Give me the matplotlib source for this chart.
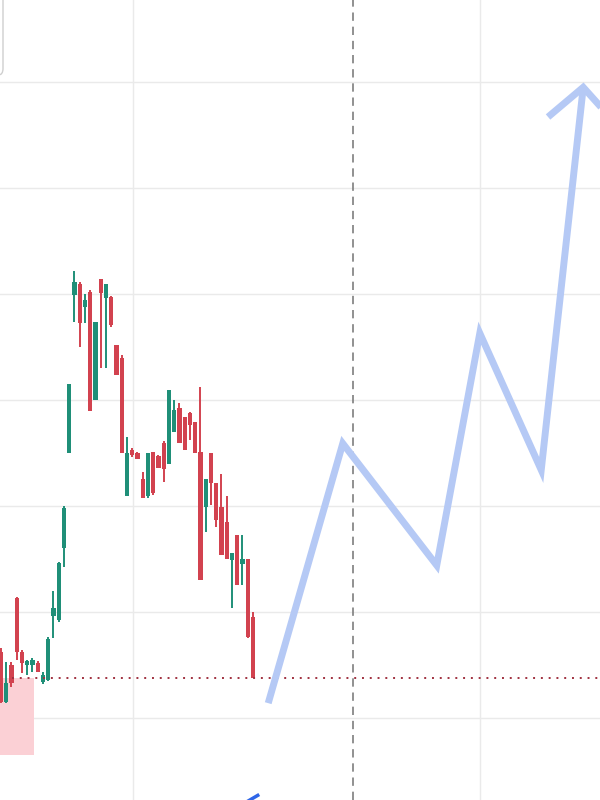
import matplotlib
matplotlib.use("Agg")
import matplotlib.pyplot as plt
from matplotlib.patches import Rectangle, FancyBboxPatch

# candle data, one entry per bar (prices)
opens = [106.2, 101.5, 105.0, 111.3, 106.2, 105.0, 105.0, 105.2, 103.4, 103.6,
         109.6, 109.2, 116.0, 125.0, 139.9, 140.9, 138.8, 140.2, 130.0, 141.4,
         139.6, 139.7, 135.2, 134.0, 120.9, 125.3, 125.0, 122.5, 120.9, 125.1,
         124.7, 125.9, 124.0, 127.0, 129.2, 128.4, 128.8, 127.9, 125.1, 119.9,
         125.0, 122.2, 119.9, 118.5, 114.9, 117.3, 114.5, 115.0, 109.5]
highs = [106.6, 105.3, 105.3, 111.4, 106.4, 105.5, 105.7, 105.4, 104.3, 107.6,
         112.0, 114.7, 120.0, 131.5, 142.2, 141.1, 140.0, 140.4, 137.4, 141.4,
         140.9, 139.8, 135.2, 134.2, 126.5, 125.5, 125.1, 123.2, 125.0, 125.1,
         124.8, 126.1, 130.9, 130.0, 129.7, 128.4, 128.9, 127.9, 131.2, 122.5,
         125.0, 122.2, 123.0, 120.9, 115.6, 117.3, 117.3, 115.0, 110.0]
lows = [101.4, 101.4, 102.9, 105.5, 104.2, 104.1, 104.3, 104.3, 103.2, 103.5,
        107.5, 109.1, 114.2, 125.0, 137.4, 135.0, 137.3, 129.0, 130.0, 133.0,
        133.0, 136.9, 132.4, 125.0, 120.9, 124.6, 124.4, 120.8, 120.8, 121.0,
        123.6, 122.3, 124.0, 127.0, 125.9, 125.3, 126.2, 125.0, 113.0, 117.5,
        120.1, 118.0, 115.4, 115.0, 110.4, 112.5, 112.5, 107.5, 103.8]
closes = [101.5, 103.3, 103.3, 106.2, 105.2, 105.4, 105.5, 104.3, 104.1, 107.5,
          110.4, 114.6, 119.8, 131.5, 141.1, 137.3, 139.4, 129.0, 137.4, 140.1,
          140.9, 137.1, 132.4, 125.0, 125.0, 124.8, 124.4, 120.8, 125.0, 121.2,
          123.6, 123.5, 130.9, 129.1, 125.9, 125.3, 127.6, 125.0, 113.0, 122.5,
          122.2, 118.7, 115.4, 115.0, 115.6, 112.5, 115.0, 107.6, 103.8]

# projected path drawn on top (bar index, price)
path_x = [50.9, 65.1, 83.0, 91.2, 102.9, 110.9]
path_y = [101.4, 125.9, 114.4, 136.3, 123.4, 159.5]
head_x = [104.2, 110.9, 114.7]
head_y = [156.7, 159.5, 157.4]

# shaded zone bottom-left
zone_x = (-0.2, 6.3)
zone_y = (96.5, 103.8)

UP = "#1f8f78"
DOWN = "#d2424f"
PATH = "#b5c9f5"

fig = plt.figure(figsize=(6, 8), dpi=100)
ax = fig.add_axes([0, 0, 1, 1])
ax.set_xlim(-1 / 5.25, 599 / 5.25)
ax.set_ylim(100 + (718 - 800) / 10.6, 100 + 718 / 10.6)

ax.set_yticks(range(100, 170, 10))
ax.set_xticks([25.1, 91.2])
ax.grid(True, color="#eaeaea", lw=1.0)
ax.tick_params(length=0, labelleft=False, labelbottom=False)
for s in ax.spines.values():
    s.set_visible(False)
ax.set_axisbelow(True)

ax.add_patch(Rectangle((zone_x[0], zone_y[0]), zone_x[1] - zone_x[0],
                       zone_y[1] - zone_y[0], color="#fbd0d5", lw=0, zorder=1))

ax.axvline(67.0, color="#7e7e7e", lw=1.2, dashes=(5, 3.5), zorder=2)

for i, (o, h, l, c) in enumerate(zip(opens, highs, lows, closes)):
    col = UP if c >= o else DOWN
    ax.vlines(i, l, h, color=col, lw=1.4, zorder=3)
    body = max(abs(c - o), 0.15)
    ax.bar(i, body, bottom=min(o, c), width=0.82, color=col, lw=0, zorder=3)

ax.axhline(closes[-1], xmin=0.02, color="#a0303f", lw=1.4, dashes=(1, 3), zorder=4)

ax.plot(path_x, path_y, color=PATH, lw=5.0, solid_joinstyle="miter",
        solid_capstyle="butt", zorder=5)
ax.plot(head_x, head_y, color=PATH, lw=5.0, solid_joinstyle="miter",
        solid_capstyle="butt", zorder=5)

# tiny arrow tip peeking in at the bottom edge
ax.plot([46.5, 48.9], [92.0, 92.7], color="#2f66e8", lw=2.5, zorder=5)

# corner of a legend box cut off at top-left
box = FancyBboxPatch((-0.06, 1 - 75 / 800), 0.065, 0.2,
                     boxstyle="round,pad=0,rounding_size=0.008",
                     transform=fig.transFigure, fc="white", ec="#cfcfcf",
                     lw=1.0, clip_on=False)
fig.patches.append(box)

fig.savefig("out.png", dpi=100)
